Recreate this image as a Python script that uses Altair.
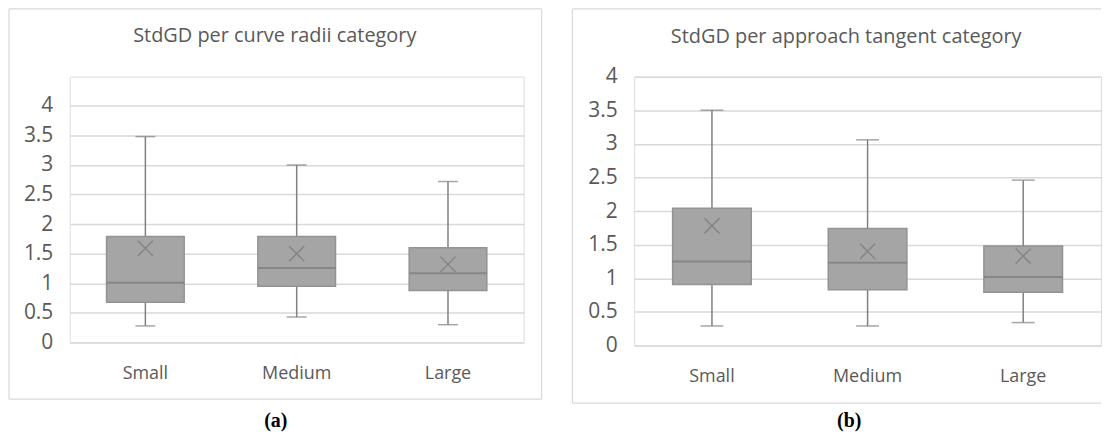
import altair as alt
import pandas as pd

categories = ["Small", "Medium", "Large"]

# Panel (a): StdGD per curve radii category
a_min = [0.28, 0.43, 0.30]
a_q1 = [0.68, 0.95, 0.88]
a_med = [1.01, 1.26, 1.17]
a_q3 = [1.79, 1.79, 1.60]
a_max = [3.48, 3.00, 2.72]
a_mean = [1.59, 1.50, 1.32]

# Panel (b): StdGD per approach tangent category
b_min = [0.29, 0.29, 0.34]
b_q1 = [0.905, 0.83, 0.79]
b_med = [1.25, 1.23, 1.02]
b_q3 = [2.04, 1.74, 1.48]
b_max = [3.50, 3.06, 2.46]
b_mean = [1.78, 1.40, 1.33]

y_ticks = [0, 0.5, 1, 1.5, 2, 2.5, 3, 3.5, 4]

FONT = "Open Sans"
TXT = "#595959"
GRID = "#d9d9d9"
FILL = "#a5a5a5"
LINE = "#808080"


def panel(mins, q1s, meds, q3s, maxs, means, title, caption, W, H, yrange,
          box_w, cap_w, frame, title_pos, cap_pos, right_edge=True):
    df = pd.DataFrame({"cat": categories, "lo": mins, "q1": q1s, "med": meds,
                       "q3": q3s, "hi": maxs, "mean": means})
    one = pd.DataFrame({"k": [0]})
    x = alt.X("cat:N", sort=categories, title=None,
              scale=alt.Scale(paddingInner=0, paddingOuter=0),
              axis=alt.Axis(labelAngle=0, domain=False, ticks=False, grid=False,
                            labelFont=FONT, labelFontSize=18, labelColor=TXT,
                            labelPadding=22))
    yscale = alt.Scale(domain=[0, 4], nice=False, range=yrange)
    yaxis = alt.Axis(values=y_ticks, format="~g", domain=False, ticks=False,
                     grid=True, gridColor=GRID, gridWidth=1.5, labelOverlap=False,
                     labelFont=FONT, labelFontSize=21, labelColor=TXT,
                     labelPadding=17)

    def Y(f):
        return alt.Y(f, title=None, scale=yscale, axis=yaxis)

    base = alt.Chart(df)
    whisk = base.mark_rule(color=LINE, strokeWidth=1.5).encode(x=x, y=Y("lo:Q"), y2="hi:Q")
    cap_lo = base.mark_tick(color=LINE, size=cap_w, thickness=1.5).encode(x=x, y=Y("lo:Q"))
    cap_hi = base.mark_tick(color=LINE, size=cap_w, thickness=1.5).encode(x=x, y=Y("hi:Q"))
    box = base.mark_bar(size=box_w, color=FILL, stroke="#939393", strokeWidth=1.5).encode(
        x=x, y=Y("q1:Q"), y2="q3:Q")
    med = base.mark_tick(color="#7a7a7a", size=box_w, thickness=2).encode(x=x, y=Y("med:Q"))
    mean = base.mark_point(shape="M-1,-1L1,1M-1,1L1,-1", size=230, filled=False,
                           color="#858585", strokeWidth=1.5, opacity=1).encode(
        x=x, y=Y("mean:Q"))

    fx1, fx2, fy1, fy2 = frame
    fb = alt.Chart(one)
    fs = dict(color=GRID, strokeWidth=1.2)
    rules = [
        fb.mark_rule(**fs).encode(x=alt.value(fx1), x2=alt.value(fx2), y=alt.value(fy1)),
        fb.mark_rule(**fs).encode(x=alt.value(fx1), x2=alt.value(fx2), y=alt.value(fy2)),
        fb.mark_rule(**fs).encode(x=alt.value(fx1), y=alt.value(fy1), y2=alt.value(fy2)),
    ]
    if right_edge:
        rules.append(fb.mark_rule(**fs).encode(x=alt.value(fx2), y=alt.value(fy1),
                                               y2=alt.value(fy2)))
    ttl = fb.mark_text(font=FONT, fontSize=20, color=TXT, align="center",
                       baseline="alphabetic").encode(
        x=alt.value(title_pos[0]), y=alt.value(title_pos[1]), text=alt.value(title))
    cap = fb.mark_text(font="Liberation Serif", fontSize=20, fontWeight="bold",
                       color="#000000", align="center", baseline="alphabetic").encode(
        x=alt.value(cap_pos[0]), y=alt.value(cap_pos[1]), text=alt.value(caption))
    return alt.layer(*rules, whisk, cap_lo, cap_hi, box, med, mean, ttl, cap).properties(
        width=W, height=H)


left = panel(a_min, a_q1, a_med, a_q3, a_max, a_mean,
             "StdGD per curve radii category", "(a)",
             W=456, H=267, yrange=[267, 29.3], box_w=78, cap_w=20,
             frame=(-61, 474, -68, 324), title_pos=(206, -35), cap_pos=(207, 352))
right = panel(b_min, b_q1, b_med, b_q3, b_max, b_mean,
              "StdGD per approach tangent category", "(b)",
              W=469, H=270, yrange=[270, 0], box_w=79, cap_w=23,
              frame=(-62, 469, -68, 328), title_pos=(213, -34), cap_pos=(216, 352),
              right_edge=False)

chart = alt.hconcat(left, right, spacing=27).properties(
    padding={"left": -1, "top": -2, "right": 0, "bottom": 0}
).configure_view(stroke=None).configure(background="white")

chart.save("out.html", embed_options={"renderer": "svg", "actions": False})
